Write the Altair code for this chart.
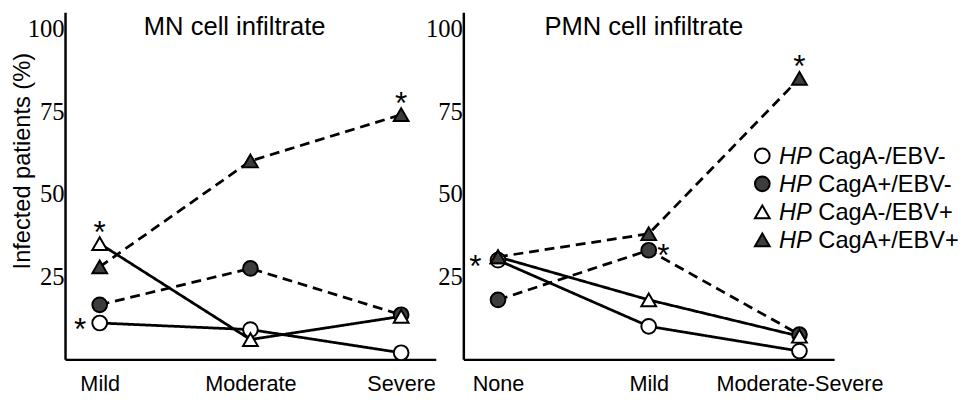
import altair as alt
import pandas as pd

# ---------------- data ----------------
series = ["CagA-/EBV-", "CagA+/EBV-", "CagA-/EBV+", "CagA+/EBV+"]
series_shapes = ["circle", "circle", "triangle-up", "triangle-up"]
series_fills = ["white", "#3d3d3d", "white", "#3d3d3d"]
series_dash = [[1, 0], [10, 6], [1, 0], [10, 6]]
series_sizes = [225, 225, 300, 300]

y_title = "Infected patients (%)"
y_tick_values = [25, 50, 75, 100]
legend_prefix = "HP"

mn_title = "MN cell infiltrate"
mn_categories = ["Mild", "Moderate", "Severe"]
mn_caganeg_ebvneg = [11, 9, 2]
mn_cagapos_ebvneg = [16.5, 27.5, 13.5]
mn_caganeg_ebvpos = [35, 6, 13]
mn_cagapos_ebvpos = [28, 60, 74]
mn_star_category = ["Mild", "Mild", "Severe"]
mn_star_value = [35, 11, 74]
mn_star_side = ["above", "left", "above"]

pmn_title = "PMN cell infiltrate"
pmn_categories = ["None", "Mild", "Moderate-Severe"]
pmn_caganeg_ebvneg = [30, 10, 2.5]
pmn_cagapos_ebvneg = [18, 33, 7.5]
pmn_caganeg_ebvpos = [31, 18, 7]
pmn_cagapos_ebvpos = [31, 38, 85]
pmn_star_category = ["None", "Mild", "Moderate-Severe"]
pmn_star_value = [31, 33, 85]
pmn_star_side = ["far-left", "right", "above"]

# ---------------- style ----------------
FONT = "Liberation Sans"
NARROW = "Liberation Sans Narrow"
PW, PH = 377, 353
AX_W = 2.5

star_offsets = {"above": (0, -1), "left": (-20, 17), "far-left": (-23, 20), "right": (15, 16)}


def long_df(categories, cols):
    rows = []
    for s, vals in zip(series, cols):
        for c, v in zip(categories, vals):
            rows.append({"category": c, "series": s, "value": v})
    return pd.DataFrame(rows)


def panel(categories, cols, star_cat, star_val, star_side, title, title_dx, show_y_title, legend):
    df = long_df(categories, cols)
    x = alt.X(
        "category:N",
        sort=categories,
        scale=alt.Scale(type="point", padding=0.23),
        axis=alt.Axis(
            title=None, labelAngle=0, ticks=False, labelFont=FONT, labelFontSize=22,
            labelColor="black", labelPadding=15, domainColor="black", domainWidth=AX_W,
            grid=False,
        ),
    )
    y = alt.Y(
        "value:Q",
        scale=alt.Scale(domain=[0, 105], nice=False, zero=True),
        axis=alt.Axis(
            values=y_tick_values, ticks=False, grid=False, labelFont=NARROW,
            labelFontSize=25, labelColor="black", labelPadding=1,
            domainColor="black", domainWidth=AX_W,
            title=y_title if show_y_title else None,
            titleFont=FONT, titleFontSize=24, titleFontWeight="normal", titleColor="black",
            titleX=-31, titleY=151, titleAngle=-90, titleBaseline="bottom", titleAlign="center",
        ),
    )
    shape = alt.Shape("series:N", scale=alt.Scale(domain=series, range=series_shapes), legend=None)
    fill = alt.Fill("series:N", scale=alt.Scale(domain=series, range=series_fills), legend=None)
    size = alt.Size("series:N", scale=alt.Scale(domain=series, range=series_sizes), legend=None)
    dash = alt.StrokeDash("series:N", scale=alt.Scale(domain=series, range=series_dash), legend=None)

    base = alt.Chart(df)
    lines = base.mark_line(color="black", strokeWidth=2.8).encode(
        x=x, y=y, detail="series:N", strokeDash=dash
    )
    pts = base.mark_point(filled=True, opacity=1, stroke="black", strokeWidth=2).encode(
        x=x, y=y, shape=shape, fill=fill, size=size
    )
    layers = [lines, pts]

    sdf = pd.DataFrame({"category": star_cat, "value": star_val, "side": star_side, "t": ["*"] * len(star_cat)})
    for side, (dx, dy) in star_offsets.items():
        sub = sdf[sdf["side"] == side]
        if len(sub) == 0:
            continue
        layers.append(
            alt.Chart(sub).mark_text(font=FONT, fontSize=32, dx=dx, dy=dy, baseline="alphabetic",
                                     align="center", color="black").encode(x=x, y=y, text="t:N")
        )

    tdf = pd.DataFrame({"t": [title]})
    layers.append(
        alt.Chart(tdf).mark_text(font=FONT, fontSize=26, baseline="alphabetic", align="center",
                                 color="black").encode(text="t:N", x=alt.value(PW / 2 + title_dx), y=alt.value(23))
    )

    if legend:
        ldf = pd.DataFrame({"series": series, "row": list(range(len(series))),
                            "hp": [legend_prefix] * len(series)})
        lb = alt.Chart(ldf).transform_calculate(ly="146 + 28.5 * datum.row", lt="datum.ly + 8.5")
        ly = alt.Y("ly:Q", scale=None, axis=None)
        lt = alt.Y("lt:Q", scale=None, axis=None)
        layers.append(
            lb.mark_point(filled=True, opacity=1, stroke="black", strokeWidth=2).encode(
                x=alt.value(304), y=ly, shape=shape, fill=fill, size=size)
        )
        layers.append(
            lb.mark_text(font=FONT, fontSize=24, fontStyle="italic", align="left", baseline="alphabetic",
                         color="black").encode(x=alt.value(321), y=lt, text="hp:N")
        )
        layers.append(
            lb.mark_text(font=FONT, fontSize=24, align="left", baseline="alphabetic",
                         color="black").encode(x=alt.value(361), y=lt, text="series:N")
        )

    return alt.layer(*layers).properties(width=PW, height=PH)


left = panel(mn_categories, [mn_caganeg_ebvneg, mn_cagapos_ebvneg, mn_caganeg_ebvpos, mn_cagapos_ebvpos],
             mn_star_category, mn_star_value, mn_star_side, mn_title, -16, True, False)
right = panel(pmn_categories, [pmn_caganeg_ebvneg, pmn_cagapos_ebvneg, pmn_caganeg_ebvpos, pmn_cagapos_ebvpos],
              pmn_star_category, pmn_star_value, pmn_star_side, pmn_title, -5, False, True)

chart = (
    alt.hconcat(left, right, spacing=28, bounds="flush")
    .properties(padding={"left": 2, "top": 1, "right": 0, "bottom": 0}, background="white")
    .configure_view(strokeWidth=0)
)

chart.save("out.html", embed_options={"renderer": "svg", "actions": False})
